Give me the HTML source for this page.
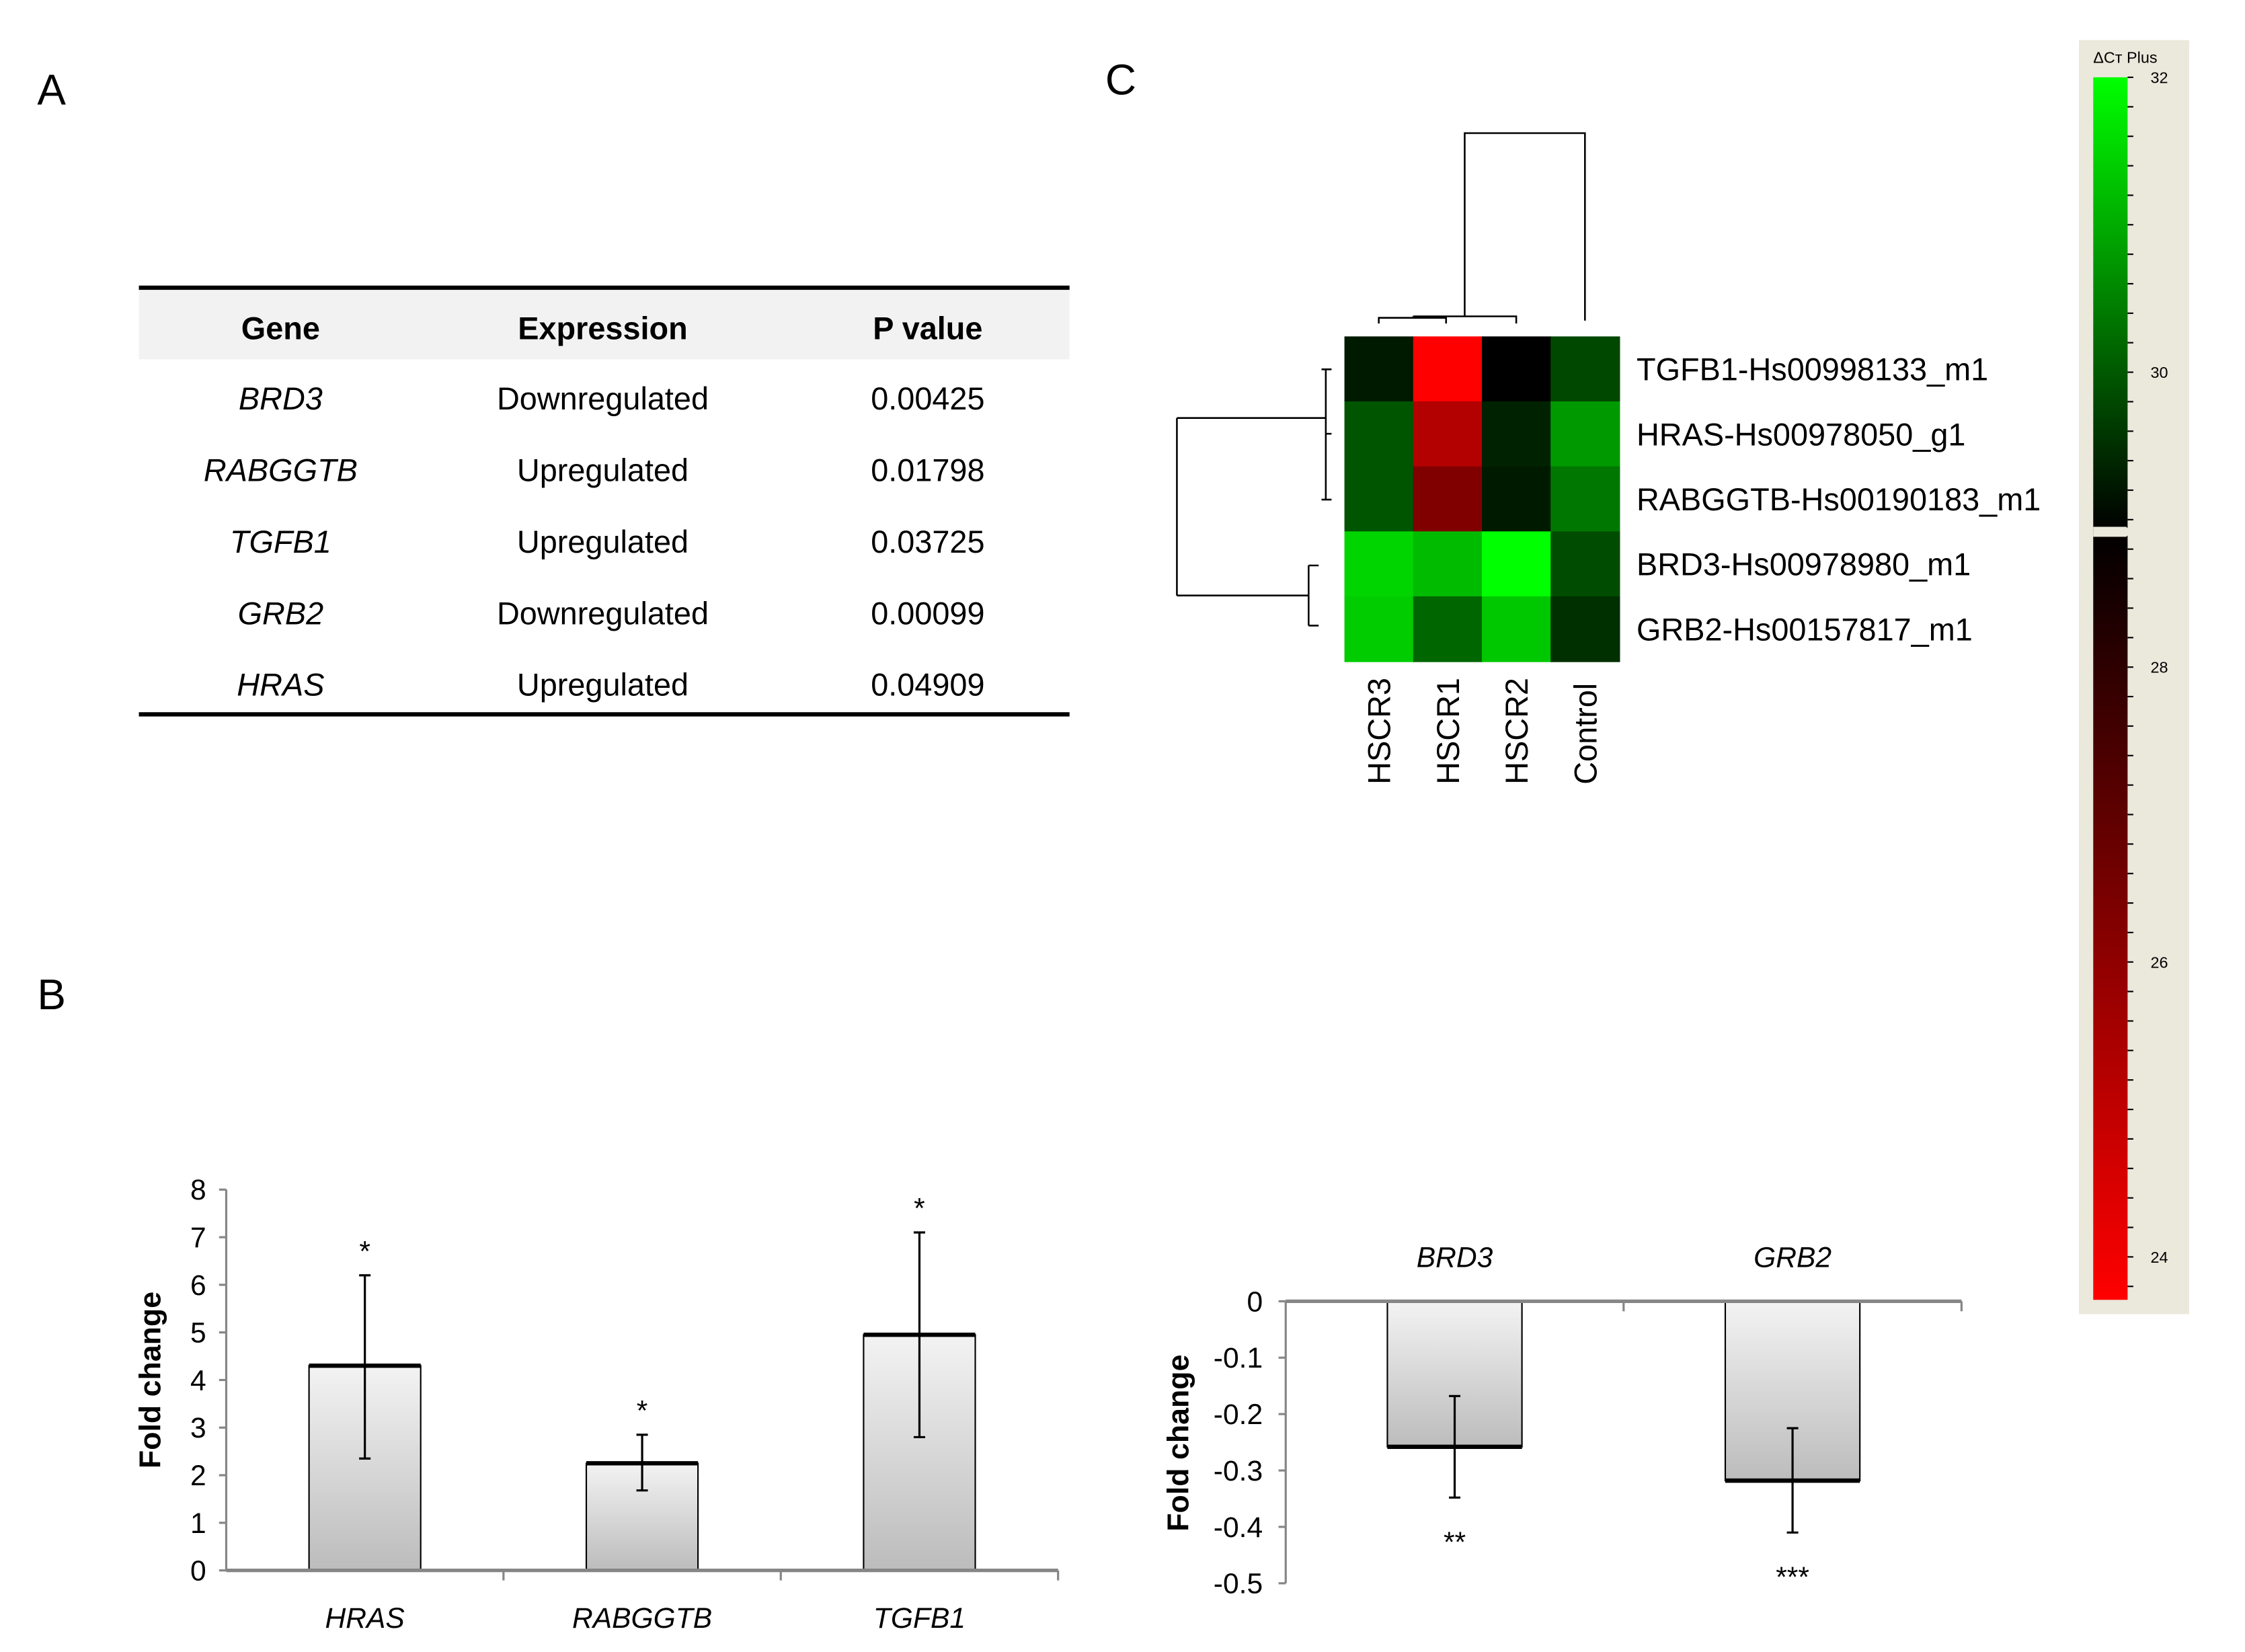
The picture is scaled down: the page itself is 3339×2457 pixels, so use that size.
<!DOCTYPE html>
<html><head><meta charset="utf-8"><style>
html,body{margin:0;padding:0;background:#fff}
svg{display:block}
text{font-family:"Liberation Sans",sans-serif}
</style></head><body>
<svg id="fig" width="3339" height="2457" viewBox="0 0 1568 1154" preserveAspectRatio="none" xmlns="http://www.w3.org/2000/svg">
<defs>
<linearGradient id="barg" x1="0" y1="0" x2="0" y2="1"><stop offset="0" stop-color="#f3f3f3"/><stop offset="1" stop-color="#bcbcbc"/></linearGradient>
<linearGradient id="cbar" x1="0" y1="0" x2="0" y2="1">
<stop offset="0" stop-color="#00ff00"/><stop offset="0.37" stop-color="#000000"/><stop offset="1" stop-color="#ff0000"/></linearGradient>
</defs>
<text x="26" y="73" font-size="30">A</text>
<text x="772" y="66" font-size="30">C</text>
<text x="26" y="705" font-size="30">B</text>

<g>
<rect x="97" y="203" width="650" height="48" fill="#f2f2f2"/>
<line x1="97" y1="201" x2="747" y2="201" stroke="#000" stroke-width="3"/>
<line x1="97" y1="499" x2="747" y2="499" stroke="#000" stroke-width="3"/>
<g font-size="22" text-anchor="middle">
<text x="196" y="237" font-weight="bold">Gene</text>
<text x="421" y="237" font-weight="bold">Expression</text>
<text x="648" y="237" font-weight="bold">P value</text>
<g id="trows"></g>
</g>
</g>

<g id="heat"></g>
<g fill="none" stroke="#000" stroke-width="1.2">
<path d="M1107 224 V93 H1023 V221 M987 221 H1059 V226 M963 226 V222 H1010 V226 M987 221 V222"/>
</g>
<g fill="none" stroke="#000" stroke-width="1.2">
<path d="M822 292 V416 M822 292 H926 M822 416 H914 M926 258 V349 M923 258 H930 M923 349 H930 M926 303 H930 M914 395 V437 M914 395 H921 M914 437 H921"/>
</g>

<g>
<rect x="1452" y="28" width="77" height="890" fill="#ebe8dc"/>
<text x="1462" y="44" font-size="11">ΔCт Plus</text>
<rect x="1462" y="54" width="24" height="854" fill="url(#cbar)"/>
<g id="cticks"></g>
<path d="M1462 368 H1485 L1489 371.5 L1485 375 H1462 Z" fill="#ebe8dc"/>
</g>

<g id="chartB"></g>
<g id="chartD"></g>
</svg>
<script>
const NS="http://www.w3.org/2000/svg";
function mk(p,t,a,txt){const e=document.createElementNS(NS,t);for(const k in a)e.setAttribute(k,a[k]);if(txt!==undefined)e.textContent=txt;p.appendChild(e);return e;}

// ---- table data
const tGenes=["BRD3","RABGGTB","TGFB1","GRB2","HRAS"];
const tExpr=["Downregulated","Upregulated","Upregulated","Downregulated","Upregulated"];
const tP=["0.00425","0.01798","0.03725","0.00099","0.04909"];
const tr=document.getElementById('trows');
tGenes.forEach((g,i)=>{const y=286+i*50;
 let e=mk(tr,'text',{x:196,y:y,'font-style':'italic'},g);
 
 
 e=mk(tr,'text',{x:421,y:y},tExpr[i]);
 
 
 e=mk(tr,'text',{x:648,y:y},tP[i]);
 
 
});

// ---- heatmap data (ΔCt)
const hmCols=["HSCR3","HSCR1","HSCR2","Control"];
const hmRows=["TGFB1-Hs00998133_m1","HRAS-Hs00978050_g1","RABGGTB-Hs00190183_m1","BRD3-Hs00978980_m1","GRB2-Hs00157817_m1"];
const hmTGFB1=[29.3,24.0,29.0,29.85];
const hmHRAS=[30.0,25.5,29.4,30.8];
const hmRABGGTB=[30.0,26.5,29.3,30.4];
const hmBRD3=[31.5,31.2,32.0,29.9];
const hmGRB2=[31.4,30.2,31.35,29.55];
const hmVals=[hmTGFB1,hmHRAS,hmRABGGTB,hmBRD3,hmGRB2];
const MID=29.0,HI=32,LO=24;
function col(v){if(v>=MID){const g=Math.round(255*Math.min(1,(v-MID)/(HI-MID)));return `rgb(0,${g},0)`;}
 const r=Math.round(255*Math.min(1,(MID-v)/(MID-LO)));return `rgb(${r},0,0)`;}
const hm=document.getElementById('heat');
const hx0=939,hy0=235,cw=48,rh=45.4;
hmVals.forEach((row,i)=>row.forEach((v,j)=>{
 const r=mk(hm,'rect',{x:hx0+j*cw,y:hy0+i*rh,width:cw+0.5,height:rh+0.5,fill:col(v)});
 
 
}));
hmRows.forEach((n,i)=>{const t=mk(hm,'text',{x:1143,y:hy0+i*rh+rh/2+8,'font-size':22},n);
 
 });
hmCols.forEach((n,j)=>{const x=hx0+j*cw+cw/2+8,y=548;
 const t=mk(hm,'text',{x:x,y:y,'font-size':22,transform:`rotate(-90 ${x} ${y})`},n);
 
 });

// color scale ticks
const cLabels=[32,30,28,26,24];
const ct=document.getElementById('cticks');
function cy(v){return 54+(HI-v)*103;}
for(let k=0;k<=41;k++){const y=54+k*20.6;mk(ct,'line',{x1:1486,y1:y,x2:1490,y2:y,stroke:'#000','stroke-width':1});}
cLabels.forEach(v=>{const t=mk(ct,'text',{x:1502,y:cy(v)+4,'font-size':11},String(v));
 
 });

// ---- bar chart B
const bCats=["HRAS","RABGGTB","TGFB1"];
const bVals=[4.3,2.25,4.95];
const bLo=[2.35,1.68,2.8];
const bHi=[6.2,2.85,7.1];
const bTicks=[0,1,2,3,4,5,6,7,8];
const bStars=["*","*","*"];
(function(){
 const g=document.getElementById('chartB');
 const X0=158,X1=739,Y0=1097,ppu=33.25;
 const ys=v=>Y0-v*ppu; const bw=(X1-X0)/bCats.length;
 mk(g,'line',{x1:X0,y1:ys(8),x2:X0,y2:Y0,stroke:'#868686','stroke-width':1.5});
 bTicks.forEach(v=>{mk(g,'line',{x1:X0-5,y1:ys(v),x2:X0,y2:ys(v),stroke:'#868686','stroke-width':1.5});
  const t=mk(g,'text',{x:X0-14,y:ys(v)+7,'font-size':20,'text-anchor':'end'},String(v));
  
  });
 bCats.forEach((c,i)=>{const cx=X0+bw*(i+0.5),w=78;
  const r=mk(g,'rect',{x:cx-w/2,y:ys(bVals[i]),width:w,height:Y0-ys(bVals[i]),fill:'url(#barg)',stroke:'#000','stroke-width':1});
  
  
  mk(g,'line',{x1:cx-w/2,y1:ys(bVals[i]),x2:cx+w/2,y2:ys(bVals[i]),stroke:'#000','stroke-width':3});
  const e=mk(g,'path',{d:`M${cx} ${ys(bLo[i])}V${ys(bHi[i])}M${cx-4} ${ys(bLo[i])}H${cx+4}M${cx-4} ${ys(bHi[i])}H${cx+4}`,stroke:'#000','stroke-width':1.5,fill:'none'});
  
  
  const s=mk(g,'text',{x:cx,y:ys(bHi[i])-10,'font-size':20,'text-anchor':'middle'},bStars[i]);
  
  
  const l=mk(g,'text',{x:cx,y:1137,'font-size':20,'font-style':'italic','text-anchor':'middle'},c);
  
  
  mk(g,'line',{x1:X0+bw*(i+1),y1:Y0,x2:X0+bw*(i+1),y2:Y0+7,stroke:'#868686','stroke-width':1.5});
 });
 mk(g,'line',{x1:X0,y1:Y0,x2:X1,y2:Y0,stroke:'#868686','stroke-width':2.5});
 const t=mk(g,'text',{x:112,y:964,'font-size':21,'font-weight':'bold','text-anchor':'middle',transform:'rotate(-90 112 964)'},'Fold change');
 
 
})();

// ---- bar chart downregulated
const dCats=["BRD3","GRB2"];
const dVals=[-0.258,-0.318];
const dLo=[-0.348,-0.41];
const dHi=[-0.168,-0.225];
const dTicks=[0,-0.1,-0.2,-0.3,-0.4,-0.5];
const dStars=["**","***"];
(function(){
 const g=document.getElementById('chartD');
 const X0=898,X1=1370,Y0=909,ppu=394;
 const ys=v=>Y0-v*ppu; const bw=(X1-X0)/dCats.length;
 mk(g,'line',{x1:X0,y1:Y0,x2:X0,y2:ys(-0.5),stroke:'#868686','stroke-width':1.5});
 dTicks.forEach(v=>{mk(g,'line',{x1:X0-5,y1:ys(v),x2:X0,y2:ys(v),stroke:'#868686','stroke-width':1.5});
  const t=mk(g,'text',{x:X0-16,y:ys(v)+7,'font-size':20,'text-anchor':'end'},v===0?'0':String(v));
  
  });
 dCats.forEach((c,i)=>{const cx=X0+bw*(i+0.5),w=94;
  const r=mk(g,'rect',{x:cx-w/2,y:Y0,width:w,height:ys(dVals[i])-Y0,fill:'url(#barg)',stroke:'#000','stroke-width':1});
  
  
  mk(g,'line',{x1:cx-w/2,y1:ys(dVals[i]),x2:cx+w/2,y2:ys(dVals[i]),stroke:'#000','stroke-width':3});
  const e=mk(g,'path',{d:`M${cx} ${ys(dLo[i])}V${ys(dHi[i])}M${cx-4} ${ys(dLo[i])}H${cx+4}M${cx-4} ${ys(dHi[i])}H${cx+4}`,stroke:'#000','stroke-width':1.5,fill:'none'});
  
  
  const s=mk(g,'text',{x:cx,y:ys(dLo[i])+38,'font-size':20,'text-anchor':'middle'},dStars[i]);
  
  
  const l=mk(g,'text',{x:cx,y:885,'font-size':20,'font-style':'italic','text-anchor':'middle'},c);
  
  
  mk(g,'line',{x1:X0+bw*(i+1),y1:Y0,x2:X0+bw*(i+1),y2:Y0+7,stroke:'#868686','stroke-width':1.5});
 });
 mk(g,'line',{x1:X0,y1:Y0,x2:X1,y2:Y0,stroke:'#868686','stroke-width':2.5});
 const t=mk(g,'text',{x:830,y:1008,'font-size':21,'font-weight':'bold','text-anchor':'middle',transform:'rotate(-90 830 1008)'},'Fold change');
 
 
})();
</script>
</body></html>
